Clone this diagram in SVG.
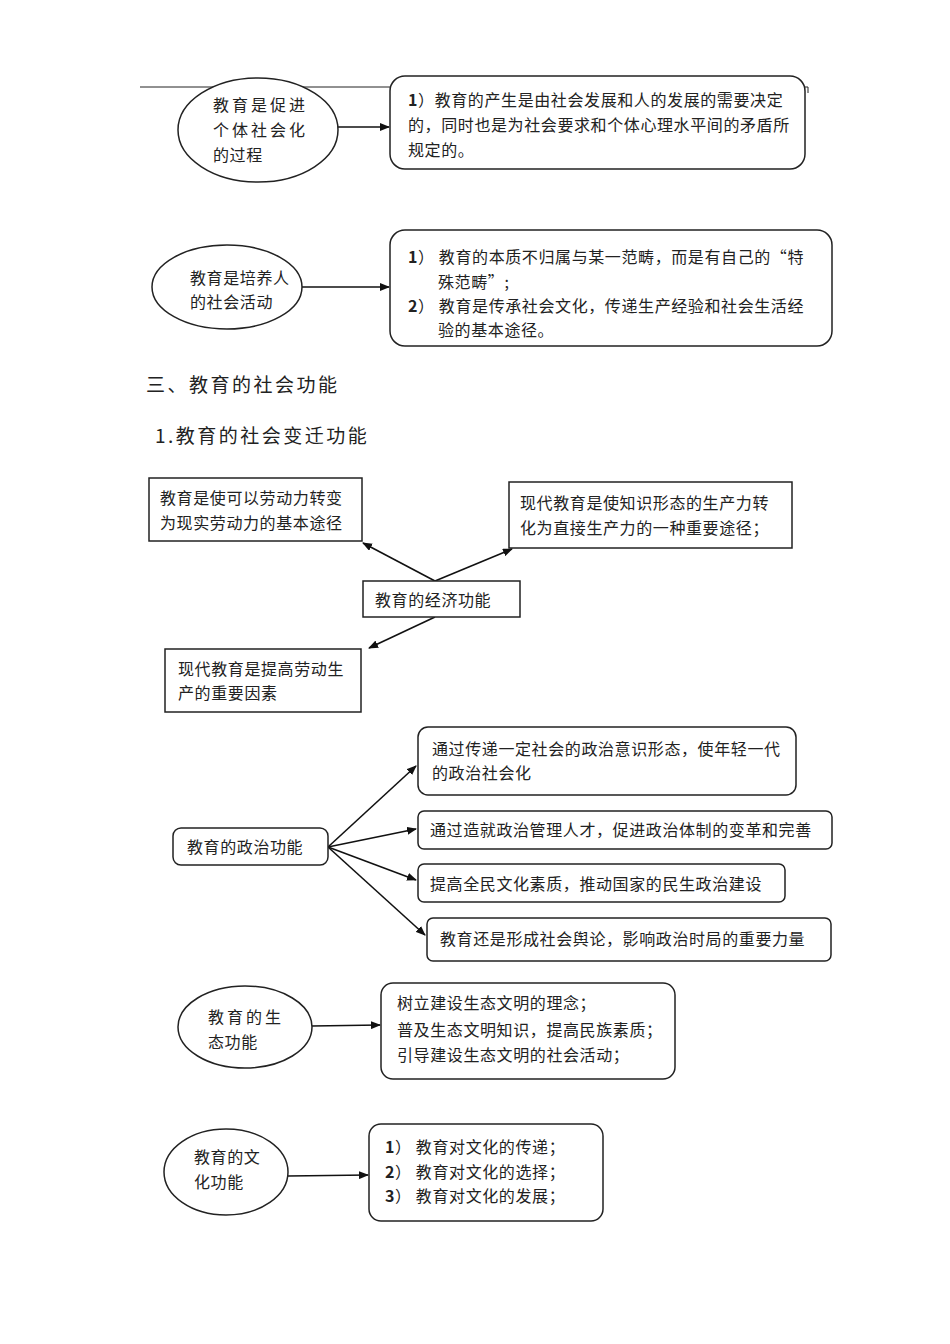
<svg xmlns="http://www.w3.org/2000/svg" width="950" height="1344" viewBox="0 0 950 1344">
<style>
text{font-family:"Noto Sans CJK SC",sans-serif;font-size:16px;letter-spacing:0.6px;fill:#222}
.s{fill:#fff;stroke:#222;stroke-width:1.5}
.c line{stroke:#111;stroke-width:1.6;marker-end:url(#a)}
.h{font-size:19px;letter-spacing:2.5px}
tspan.b{font-weight:bold}
</style>
<defs><marker id="a" markerWidth="10" markerHeight="8" refX="9" refY="4" orient="auto" markerUnits="userSpaceOnUse"><path d="M0,0L10,4L0,8z" fill="#111"/></marker></defs>
<rect width="950" height="1344" fill="#fff"/>
<line x1="140" y1="87" x2="808" y2="87" stroke="#222" stroke-width="1"/>
<line x1="808" y1="87" x2="808" y2="93" stroke="#222" stroke-width="1"/>
<g class="c">
<line x1="338" y1="127" x2="389" y2="127"/>
<line x1="302" y1="287" x2="389" y2="287"/>
<line x1="435" y1="581" x2="363" y2="543"/>
<line x1="435" y1="581" x2="512" y2="549"/>
<line x1="435" y1="617" x2="369" y2="648"/>
<line x1="328" y1="847" x2="416" y2="766"/>
<line x1="328" y1="847" x2="416" y2="829"/>
<line x1="328" y1="847" x2="416" y2="880"/>
<line x1="328" y1="847" x2="425" y2="935"/>
<line x1="312" y1="1026" x2="380" y2="1025"/>
<line x1="288" y1="1176" x2="368" y2="1175"/>
</g>
<g id="n1"><ellipse class="s" cx="258" cy="130" rx="80" ry="52"/><text x="213" y="111" style="letter-spacing:3px">教育是促进</text><text x="213" y="136" style="letter-spacing:3px">个体社会化</text><text x="213" y="161">的过程</text></g>
<g id="b1"><rect class="s" x="390" y="76" width="415" height="93" rx="15"/><text x="408" y="106"><tspan class="b">1</tspan>）教育的产生是由社会发展和人的发展的需要决定</text><text x="408" y="131">的，同时也是为社会要求和个体心理水平间的矛盾所</text><text x="408" y="156">规定的。</text></g>
<g id="n2"><ellipse class="s" cx="227" cy="287" rx="75" ry="42"/><text x="190" y="284">教育是培养人</text><text x="190" y="308">的社会活动</text></g>
<g id="b2"><rect class="s" x="390" y="230" width="442" height="116" rx="15"/><text x="408" y="263"><tspan class="b">1</tspan>） 教育的本质不归属与某一范畴，而是有自己的“特</text><text x="438" y="288">殊范畴”;</text><text x="408" y="312"><tspan class="b">2</tspan>） 教育是传承社会文化，传递生产经验和社会生活经</text><text x="438" y="336">验的基本途径。</text></g>
<text class="h" x="146" y="392">三、教育的社会功能</text>
<text class="h" x="155" y="443">1.教育的社会变迁功能</text>
<g id="bA"><rect class="s" x="149" y="478" width="213" height="63"/><text x="160" y="504">教育是使可以劳动力转变</text><text x="160" y="529">为现实劳动力的基本途径</text></g>
<g id="bB"><rect class="s" x="509" y="482" width="283" height="66"/><text x="520" y="509">现代教育是使知识形态的生产力转</text><text x="520" y="534">化为直接生产力的一种重要途径；</text></g>
<g id="bC"><rect class="s" x="363" y="581" width="157" height="36"/><text x="375" y="606">教育的经济功能</text></g>
<g id="bD"><rect class="s" x="165" y="649" width="196" height="63"/><text x="178" y="675">现代教育是提高劳动生</text><text x="178" y="699">产的重要因素</text></g>
<g id="pol"><rect class="s" x="173" y="828" width="155" height="37" rx="8"/><text x="187" y="853">教育的政治功能</text></g>
<g id="bE"><rect class="s" x="418" y="727" width="378" height="68" rx="10"/><text x="432" y="755">通过传递一定社会的政治意识形态，使年轻一代</text><text x="432" y="779">的政治社会化</text></g>
<g id="bF"><rect class="s" x="418" y="811" width="414" height="38" rx="6"/><text x="430" y="836">通过造就政治管理人才，促进政治体制的变革和完善</text></g>
<g id="bG"><rect class="s" x="418" y="864" width="367" height="38" rx="6"/><text x="430" y="890">提高全民文化素质，推动国家的民生政治建设</text></g>
<g id="bH"><rect class="s" x="427" y="918" width="404" height="43" rx="6"/><text x="440" y="945">教育还是形成社会舆论，影响政治时局的重要力量</text></g>
<g id="n3"><ellipse class="s" cx="245" cy="1027" rx="67" ry="41"/><text x="208" y="1023" style="letter-spacing:3px">教育的生</text><text x="208" y="1048">态功能</text></g>
<g id="b3"><rect class="s" x="381" y="983" width="294" height="96" rx="12"/><text x="397" y="1009">树立建设生态文明的理念；</text><text x="397" y="1036">普及生态文明知识，提高民族素质；</text><text x="397" y="1061">引导建设生态文明的社会活动；</text></g>
<g id="n4"><ellipse class="s" cx="226" cy="1172" rx="62" ry="43"/><text x="194" y="1163">教育的文</text><text x="194" y="1188">化功能</text></g>
<g id="b4"><rect class="s" x="369" y="1124" width="234" height="97" rx="12"/><text x="385" y="1153"><tspan class="b">1</tspan>） 教育对文化的传递；</text><text x="385" y="1178"><tspan class="b">2</tspan>） 教育对文化的选择；</text><text x="385" y="1202"><tspan class="b">3</tspan>） 教育对文化的发展；</text></g>
</svg>
